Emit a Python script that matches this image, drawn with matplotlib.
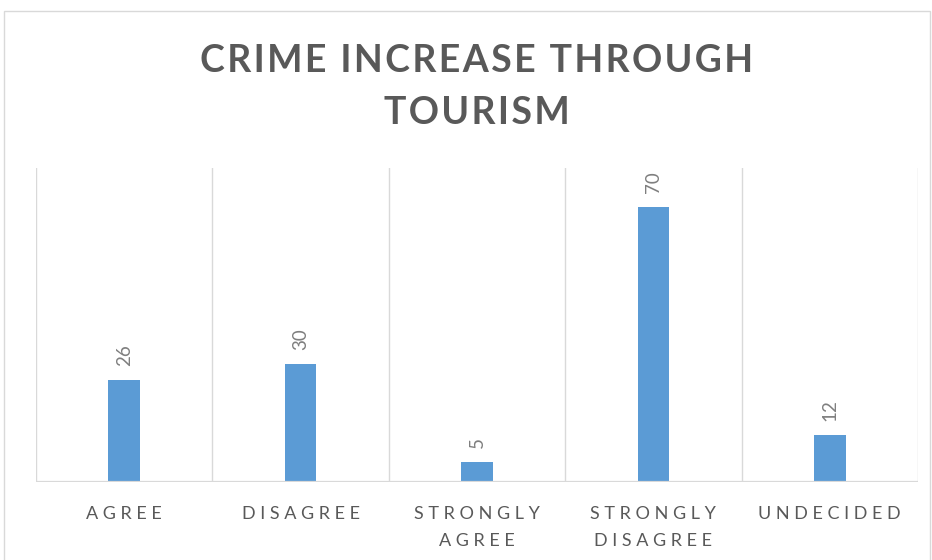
import matplotlib
matplotlib.use("Agg")
import matplotlib.pyplot as plt
from matplotlib.patches import Rectangle

categories = ["AGREE", "DISAGREE", "STRONGLY\nAGREE", "STRONGLY\nDISAGREE", "UNDECIDED"]
values = [26, 30, 5, 70, 12]
title = "CRIME INCREASE THROUGH\nTOURISM"

BAR = "#5B9BD5"
TEXT = "#595959"
GRID = "#D9D9D9"
FONT = ["Lato", "DejaVu Sans"]


def spaced(s, sep="\u2009"):
    return "\n".join(sep.join(ch for ch in line) for line in s.split("\n"))


fig = plt.figure(figsize=(9.32, 5.60), dpi=100)
W, H = 932, 560

# chart-area frame
fig.patches.append(Rectangle((4 / W, -0.1), (930 - 4) / W, (560 - 11) / H + 0.1,
                             transform=fig.transFigure, fill=False,
                             edgecolor="#D9D9D9", linewidth=1.0))

ax = fig.add_axes([36 / W, (560 - 482) / H, (918 - 36) / W, (482 - 168) / H])
x = list(range(len(categories)))
ax.bar(x, values, width=0.18, color=BAR, zorder=3)
ax.set_xlim(-0.5, len(categories) - 0.5)
ax.set_ylim(0, 80)

for b in [i - 0.5 for i in range(len(categories) + 1)]:
    ax.axvline(b, color=GRID, linewidth=1.0, zorder=1)
ax.axhline(0, color=GRID, linewidth=1.6, zorder=4)

for s in ax.spines.values():
    s.set_visible(False)
ax.set_yticks([])
ax.set_xticks(x)
ax.set_xticklabels([spaced(c, " ") for c in categories], family=FONT,
                   fontsize=13, color=TEXT, linespacing=1.9)
ax.tick_params(axis="x", length=0, pad=17)

for xi, v in zip(x, values):
    ax.annotate(str(v), (xi, v), xytext=(0, 10), textcoords="offset points",
                rotation=90, ha="center", va="bottom", family=FONT,
                fontsize=13.5, color="#7F7F7F")

fig.text(477 / W, 1 - 87 / H, spaced(title, "\u200a"), ha="center", va="center",
         family=FONT, fontsize=27, fontweight="bold", color=TEXT, linespacing=1.65)

fig.savefig("out.png", dpi=100)
